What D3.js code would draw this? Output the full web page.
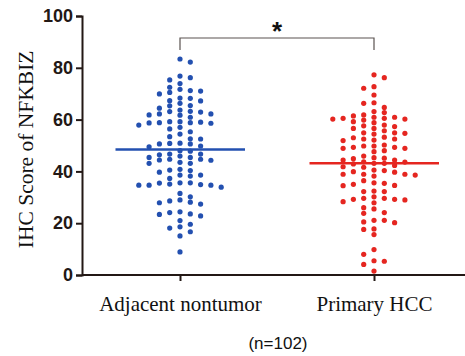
<!DOCTYPE html>
<html>
<head>
<meta charset="utf-8">
<script src="https://cdn.jsdelivr.net/npm/d3@7"></script>
<style>
  body { margin: 0; background: #fff; }
</style>
</head>
<body>
<div class="chart"></div>
<script>
const groups = ['Adjacent nontumor', 'Primary HCC'];
const groupColors = ['#2350b0', '#e52620'];
const yTicks = [0, 20, 40, 60, 80, 100];

// IHC scores
const adjacent = [
  59.2, 35.1, 63.2, 58.8, 46.7, 44.7,
  71.7, 68.2, 62.2, 57.9, 49.5, 44.4, 40.8, 38.6, 35.6, 33.9, 30.2, 28.1, 23.6,
  83.4, 75.3, 70.5, 67.3, 65.4, 62.2, 58.8, 53.4, 50.9, 46.4, 44.3, 40.3, 38.2, 34.7, 24.1, 18.1,
  82.2, 76.8, 72.5, 69.9, 66.3, 63.7, 61.7, 58.7, 56.4, 52.6, 50.6, 45.9, 43.5, 39.7, 37.3, 34.7,
  29.0, 27.4, 24.4, 21.0, 18.6, 15.1, 8.9,
  76.2, 73.9, 71.2, 68.3, 65.3, 62.9, 60.9, 58.6, 55.3, 49.8, 47.8, 45.4, 43.1, 35.6, 31.5, 28.6, 22.8, 19.6, 16.7,
  71.0, 67.2, 64.4, 61.8, 57.0, 54.4, 52.5, 50.6, 48.0, 45.4, 43.1, 40.5, 38.6, 34.7, 27.9, 23.4,
  63.1, 59.0, 50.8, 46.7, 44.7, 35.5, 59.2, 34.9
];
const primary = [
  76.2, 77.3, 72.1, 72.7, 69.5, 66.5, 60.5, 43.6,
  60.2, 54.9, 49.3, 44.9, 42.9, 39.9, 35.6, 29.6,
  60.5, 57.6, 53.0, 50.2, 48.0, 45.3, 42.3, 40.3, 38.2, 35.4, 30.2, 27.9,
  60.9, 58.8, 56.6, 54.7, 52.5, 48.9, 44.4, 38.9, 34.6, 32.2, 29.0, 25.5,
  61.4, 57.3, 54.4, 51.9, 48.9, 45.9, 41.6, 38.9, 32.2, 28.3, 26.0, 23.8, 15.6, 8.0, 4.1, 1.5,
  66.3, 63.1, 59.2, 55.7, 52.5, 49.3, 44.4, 41.8, 38.9, 34.5, 32.4, 29.2, 24.1,
  64.7, 61.8, 59.8, 57.9, 54.9, 52.1, 49.8, 47.6, 45.1, 43.1, 40.5, 38.6, 35.0, 29.2,
  62.7, 60.9, 56.6, 53.2, 49.8, 43.1, 39.7, 36.4, 29.6, 60.2, 43.7,
  20.2, 20.5, 21.1, 21.1, 17.6, 17.8, 9.8, 5.5, 5.3
];
const seriesData = [adjacent, primary];

const width = 465, height = 356;
const axisColor = '#231815';

const svg = d3.select('.chart')
  .append('svg')
  .attr('width', width)
  .attr('height', height);

const xScale = d3.scalePoint()
  .domain(groups)
  .range([180, 374]);

const yScale = d3.scaleLinear()
  .domain([0, 100])
  .range([275, 16]);

// y axis
const yAxis = svg.append('g')
  .attr('transform', 'translate(82,0)')
  .call(d3.axisLeft(yScale).tickValues(yTicks).tickSize(6).tickPadding(3));
yAxis.select('.domain').attr('stroke', axisColor).attr('stroke-width', 2);
yAxis.selectAll('.tick line').attr('stroke', axisColor).attr('stroke-width', 2);
yAxis.selectAll('.tick text')
  .attr('fill', axisColor)
  .style('font-family', 'Arial, "Liberation Sans", sans-serif')
  .style('font-weight', 'bold')
  .style('font-size', '18px');

// x axis
const xAxis = svg.append('g')
  .attr('transform', 'translate(0,275)')
  .call(d3.axisBottom(xScale).tickSize(6).tickSizeOuter(0).tickPadding(0));
xAxis.select('.domain').attr('d', 'M82,0H465').attr('stroke', axisColor).attr('stroke-width', 2);
xAxis.selectAll('.tick line').attr('stroke', axisColor).attr('stroke-width', 2);
xAxis.selectAll('.tick text')
  .attr('dy', null)
  .attr('y', 36)
  .attr('fill', '#111')
  .style('font-family', '"Liberation Serif", "Times New Roman", serif')
  .style('font-size', '21px');

// y title
svg.append('text')
  .attr('transform', `translate(33,${yScale(48.5)}) rotate(-90)`)
  .attr('text-anchor', 'middle')
  .attr('fill', '#111')
  .style('font-family', '"Liberation Serif", "Times New Roman", serif')
  .style('font-size', '21.5px')
  .text('IHC Score of NFKBIZ');

// beeswarm: sorted greedy placement in discrete columns, balancing both sides
const colStep = 10.3, minGap = 5.0, r = 2.6;
function swarm(values) {
  const placed = [];
  const sorted = values.slice().sort((a, b) => b - a);
  sorted.forEach((v, n) => {
    const y = yScale(v);
    const free = off => !placed.some(p => p.off === off && Math.abs(p.y - y) < minGap);
    const near = off => placed.filter(p => Math.sign(p.off) === Math.sign(off) && Math.abs(p.y - y) < 12).length;
    for (let k = 0; k < 20; k++) {
      let opts = k === 0 ? [0] : [-k, k];
      if (k > 0) {
        const a = near(-k), b = near(k);
        if (b < a || (a === b && n % 2)) opts = [k, -k];
      }
      const off = opts.find(free);
      if (off !== undefined) { placed.push({off, y, v}); break; }
    }
  });
  return placed;
}

seriesData.forEach((values, gi) => {
  const cx = xScale(groups[gi]);
  const pts = swarm(values);
  svg.append('g')
    .selectAll('circle')
    .data(pts)
    .enter()
    .append('circle')
    .attr('cx', d => cx + d.off * colStep)
    .attr('cy', d => d.y)
    .attr('r', r)
    .attr('fill', groupColors[gi]);

  const m = d3.mean(values);
  svg.append('line')
    .attr('x1', cx - 64.5)
    .attr('x2', cx + 65)
    .attr('y1', yScale(m))
    .attr('y2', yScale(m))
    .attr('stroke', groupColors[gi])
    .attr('stroke-width', 2.5);
});

// significance bracket
const bx1 = xScale(groups[0]), bx2 = xScale(groups[1]);
svg.append('path')
  .attr('d', `M${bx1},50V38H${bx2}V50`)
  .attr('fill', 'none')
  .attr('stroke', '#5a5350')
  .attr('stroke-width', 1.2);
svg.append('text')
  .attr('x', (bx1 + bx2) / 2)
  .attr('y', 40)
  .attr('text-anchor', 'middle')
  .attr('fill', '#111')
  .style('font-family', 'Arial, "Liberation Sans", sans-serif')
  .style('font-weight', 'bold')
  .style('font-size', '26px')
  .text('*');

svg.append('text')
  .attr('x', 278)
  .attr('y', 349)
  .attr('text-anchor', 'middle')
  .attr('fill', '#111')
  .style('font-family', 'Arial, "Liberation Sans", sans-serif')
  .style('font-size', '17px')
  .text('(n=102)');
</script>
</body>
</html>
